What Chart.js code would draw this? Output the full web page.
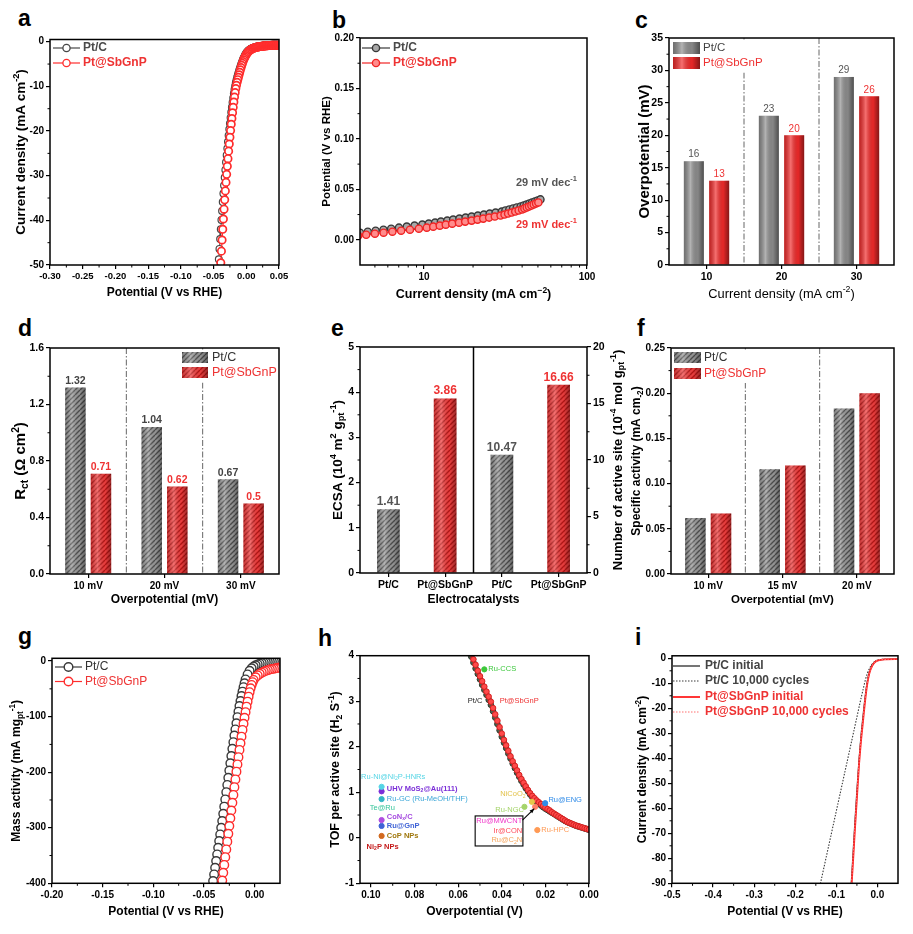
<!DOCTYPE html>
<html><head><meta charset="utf-8">
<script src="https://cdn.jsdelivr.net/npm/chart.js@4.4.1/dist/chart.umd.min.js"></script>
<style>
html,body{margin:0;padding:0;background:#fff;}
#wrap{position:relative;width:913px;height:934px;overflow:hidden;background:#fff;}
#wrap canvas{position:absolute;}
.lbl{position:absolute;font:bold 23px "Liberation Sans",Arial,sans-serif;color:#000;line-height:24px;height:24px;}
</style></head><body>
<div id="wrap">
<div class="lbl" style="left:18px;top:6px">a</div>
<div class="lbl" style="left:332px;top:8px">b</div>
<div class="lbl" style="left:635px;top:8px">c</div>
<div class="lbl" style="left:18px;top:316px">d</div>
<div class="lbl" style="left:331px;top:316px">e</div>
<div class="lbl" style="left:637px;top:316px">f</div>
<div class="lbl" style="left:18px;top:624px">g</div>
<div class="lbl" style="left:318px;top:626px">h</div>
<div class="lbl" style="left:635px;top:625px">i</div>
</div>
<script>
// ================= DATA =================
// (a) polarization curves
const aPotential = [0.050,0.049,0.048,0.047,0.046,0.045,0.044,0.043,0.042,0.041,
0.040,0.039,0.038,0.037,0.036,0.035,0.034,0.033,0.032,0.031,
0.030,0.029,0.028,0.027,0.026,0.025,0.024,0.023,0.022,0.021,
0.020,0.019,0.018,0.017,0.016,0.015,0.014,0.013,0.012,0.011,
0.010,0.009,0.008,0.007,0.006,0.005,0.004,0.003,0.002,0.001,
0.000,-0.001,-0.002,-0.003,-0.004,-0.005,-0.006,-0.007,-0.008,-0.009,
-0.010,-0.011,-0.012,-0.013,-0.014,-0.015,-0.016,-0.017,-0.018,-0.019,
-0.020,-0.021,-0.022,-0.023,-0.024,-0.025,-0.026,-0.027,-0.028,-0.029,
-0.030,-0.031,-0.032,-0.033,-0.034,-0.035,-0.036,-0.037,-0.038,-0.039,
-0.040,-0.041,-0.042,-0.043];
const aPtC = [-0.7,-0.7,-0.7,-0.7,-0.7,-0.7,-0.7,-0.7,-0.7,-0.7,
-0.7,-0.71,-0.72,-0.73,-0.74,-0.75,-0.76,-0.77,-0.78,-0.79,
-0.8,-0.82,-0.84,-0.86,-0.88,-0.9,-0.92,-0.94,-0.96,-0.98,
-1.0,-1.03,-1.06,-1.09,-1.12,-1.15,-1.19,-1.23,-1.28,-1.33,
-1.39,-1.45,-1.52,-1.6,-1.69,-1.79,-1.9,-2.03,-2.18,-2.35,
-2.55,-2.8,-3.05,-3.35,-3.65,-4.0,-4.35,-4.75,-5.15,-5.6,
-6.05,-6.5,-7.0,-7.5,-8.0,-8.6,-9.2,-9.9,-10.7,-11.6,
-12.6,-13.6,-14.7,-15.8,-17.0,-18.3,-19.6,-21.0,-22.4,-23.9,
-25.4,-27.0,-28.7,-30.4,-32.2,-34.0,-35.9,-37.9,-39.9,-42.0,
-44.2,-46.4,-48.7,-51.0];
const aPtSbGnP = [-0.8,-0.8,-0.8,-0.8,-0.8,-0.8,-0.8,-0.8,-0.8,-0.8,
-0.8,-0.81,-0.82,-0.83,-0.84,-0.85,-0.86,-0.87,-0.88,-0.89,
-0.9,-0.92,-0.94,-0.96,-0.98,-1.0,-1.02,-1.04,-1.06,-1.08,
-1.1,-1.13,-1.16,-1.19,-1.22,-1.26,-1.3,-1.35,-1.4,-1.46,
-1.52,-1.6,-1.68,-1.77,-1.87,-1.98,-2.1,-2.25,-2.42,-2.62,
-2.85,-3.1,-3.4,-3.7,-4.05,-4.45,-4.85,-5.3,-5.8,-6.3,
-6.85,-7.4,-7.95,-8.5,-9.1,-9.75,-10.5,-11.4,-12.4,-13.5,
-14.7,-15.9,-17.2,-18.5,-19.9,-21.4,-22.9,-24.5,-26.2,-27.9,
-29.7,-31.5,-33.4,-35.4,-37.5,-39.7,-42.0,-44.4,-46.9,-49.5,
-52.2,-55.0,-57.9,-60.9];
const aXTicks = [-0.30,-0.25,-0.20,-0.15,-0.10,-0.05,0.00,0.05];
const aYTicks = [-50,-40,-30,-20,-10,0];

// (b) Tafel plots
const bPtCCurrent = [4.05,4.52,5.05,5.64,6.29,7.02,7.84,8.75,9.77,10.7,11.7,12.7,13.9,15.1,16.5,18.0,19.6,21.4,23.3,25.3,27.5,30.0,31.6,33.4,35.2,37.1,39.2,40.9,42.6,44.3,46.0,47.9,49.8,51.8];
const bPtCPotential = [0.007,0.008,0.009,0.010,0.011,0.012,0.013,0.014,0.015,0.016,0.017,0.018,0.019,0.020,0.021,0.022,0.023,0.024,0.025,0.026,0.027,0.028,0.029,0.030,0.031,0.032,0.033,0.034,0.035,0.036,0.037,0.038,0.039,0.040];
const bSbCurrent = [3.95,4.42,5.0,5.65,6.4,7.24,8.2,9.3,10.4,11.4,12.5,13.6,14.9,16.4,17.9,19.6,21.3,23.1,25.1,27.2,29.5,31.2,32.8,34.5,36.3,38.1,40.0,41.3,42.7,44.1,45.6,47.1,48.7,50.3];
const bSbPotential = [0.004,0.005,0.006,0.007,0.008,0.009,0.010,0.011,0.012,0.013,0.014,0.015,0.016,0.017,0.018,0.019,0.020,0.021,0.022,0.023,0.024,0.025,0.026,0.027,0.028,0.029,0.030,0.031,0.032,0.033,0.034,0.035,0.036,0.037];
const bXTicks = [10,100];
const bXMinor = [5,6,7,8,9,20,30,40,50,60,70,80,90];
const bYTicks = [0,0.05,0.10,0.15,0.20];

// (c) overpotential
const cCats = ['10','20','30'];
const cPtC = [16,23,29];
const cPtSb = [13,20,26];
const cYTicks = [0,5,10,15,20,25,30,35];

// (d) Rct
const dCats = ['10 mV','20 mV','30 mV'];
const dPtC = [1.32,1.04,0.67];
const dPtSb = [0.71,0.62,0.5];
const dYTicks = [0,0.4,0.8,1.2,1.6];

// (e) ECSA / active sites
const eCats = ['Pt/C','Pt@SbGnP','Pt/C','Pt@SbGnP'];
const eECSA = [1.41,3.86];
const eSites = [10.47,16.66];
const eYTicks = [0,1,2,3,4,5];
const eY2Ticks = [0,5,10,15,20];

// (f) specific activity
const fCats = ['10 mV','15 mV','20 mV'];
const fPtC = [0.062,0.116,0.183];
const fPtSb = [0.067,0.120,0.200];
const fYTicks = [0,0.05,0.10,0.15,0.20,0.25];

// (g) mass activity
const gPtCPotential = [0.025,0.023,0.021,0.019,0.017,0.015,0.013,0.011,0.009,0.007,0.005,0.003,0.001,
-0.001,-0.003,-0.005,-0.007,-0.009,
-0.010,-0.011,-0.012,-0.013,-0.014,-0.015,-0.016,-0.017,-0.018,-0.019,-0.020,-0.021,-0.022,-0.023,-0.024,-0.025,-0.026,-0.027,-0.028,-0.029,-0.030,-0.031,-0.032,-0.033,-0.034,-0.035,-0.036,-0.037,-0.038,-0.039,-0.040,-0.041,-0.042];
const gPtC = [-0.4,-0.55,-0.7,-0.9,-1.1,-1.4,-1.8,-2.3,-2.9,-3.7,-4.7,-6.0,-7.6,
-9.8,-13,-17.5,-24,-33,
-40,-47,-55,-63,-72,-81,-91,-101,-112,-123,-134,-146,-158,-171,-184,-197,-210,-223,-236,-249,-262,-275,-288,-300,-312,-324,-336,-348,-360,-372,-384,-396,-408];
const gSbPotential = [0.025,0.023,0.021,0.019,0.017,0.015,0.013,0.011,0.009,0.007,0.005,0.003,0.001,
-0.001,-0.002,-0.003,-0.004,-0.005,-0.006,-0.007,-0.008,-0.009,-0.010,-0.011,-0.012,-0.013,-0.014,-0.015,-0.016,-0.017,-0.018,-0.019,-0.020,-0.021,-0.022,-0.023,-0.024,-0.025,-0.026,-0.027,-0.028,-0.029,-0.030,-0.031,-0.032,-0.033];
const gSb = [-11.5,-12.2,-12.9,-13.6,-14.4,-15.3,-16.3,-17.5,-19.0,-20.8,-23.0,-25.8,-29.2,
-34,-38,-43,-49,-56,-64,-73,-82,-92,-102,-113,-124,-136,-148,-160,-173,-186,-199,-213,-227,-241,-255,-269,-283,-297,-311,-325,-339,-353,-367,-381,-395,-409];
const gXTicks = [-0.20,-0.15,-0.10,-0.05,0.00];
const gYTicks = [-400,-300,-200,-100,0];

// (h) TOF
const hEta = [0.054,0.053,0.052,0.051,0.050,0.049,0.048,0.047,0.046,0.045,0.044,0.043,0.042,0.041,0.040,0.039,0.038,0.037,0.036,0.035,0.034,0.033,0.032,0.031,0.030,0.029,0.028,0.027,0.026,0.025,0.024,0.023,0.022,0.021,0.020,0.019,0.018,0.017,0.016,0.015,0.014,0.013,0.012,0.011,0.010,0.009,0.008,0.007,0.006,0.005,0.004,0.003,0.002,0.001,0.000];
const hPtC = [3.98,3.85,3.72,3.60,3.48,3.36,3.25,3.14,3.03,2.92,2.78,2.64,2.50,2.36,2.22,2.09,1.97,1.85,1.74,1.63,1.53,1.43,1.34,1.25,1.17,1.09,1.02,0.95,0.89,0.84,0.79,0.75,0.71,0.67,0.64,0.61,0.58,0.55,0.52,0.49,0.46,0.43,0.40,0.37,0.345,0.325,0.305,0.285,0.265,0.25,0.235,0.22,0.205,0.19,0.175];
const hPtSb = [4.05,3.92,3.80,3.67,3.55,3.44,3.32,3.21,3.10,2.99,2.85,2.71,2.57,2.43,2.29,2.15,2.03,1.91,1.79,1.68,1.58,1.48,1.38,1.29,1.21,1.13,1.05,0.98,0.92,0.87,0.82,0.78,0.74,0.70,0.66,0.63,0.60,0.56,0.53,0.50,0.47,0.44,0.41,0.38,0.35,0.33,0.31,0.29,0.27,0.255,0.24,0.225,0.21,0.195,0.18];
const hLitNames = ['Ru-CCS','Ru-Ni@Ni2P-HNRs','UHV MoS2@Au(111)','Ru-GC','CoNx/C','Ru@GnP','CoP NPs','NiCoO2','Ru-NGC','Ru@ENG','Ru@MWCNT/Ir@CON/Ru@C2N','Ru-HPC'];
const hLitEta = [0.048,0.0951,0.0951,0.0951,0.0951,0.0951,0.0951,0.0262,0.0296,0.0201,0.0247,0.0237];
const hLitTOF = [3.70,1.12,1.02,0.85,0.39,0.26,0.04,0.79,0.68,0.76,0.68,0.17];
const hXTicks = [0.10,0.08,0.06,0.04,0.02,0.00];
const hYTicks = [-1,0,1,2,3,4];

// (i) stability
const iPotential = [0.05,0.02,0.0,-0.005,-0.01,-0.015,-0.02,-0.025,-0.03,-0.035,-0.04,-0.045,-0.05,-0.055,-0.06,-0.064];
const iPtCInitial = [-0.3,-0.4,-0.8,-1.2,-2.0,-3.2,-5.5,-9.5,-15.5,-23,-31,-41,-53,-66,-80,-91];
const iSbInitial = [-0.3,-0.4,-0.9,-1.4,-2.3,-3.8,-6.2,-10.5,-17,-25,-33,-43,-56,-69,-83,-93];
const iSbCycled = [-0.3,-0.4,-0.8,-1.3,-2.1,-3.5,-5.8,-9.8,-16,-24,-32,-42,-54,-67,-81,-92];
const iPtCCycledPotential = [0.05,0.02,0.0,-0.005,-0.01,-0.015,-0.02,-0.025,-0.03,-0.035,-0.04,-0.05,-0.06,-0.07,-0.08,-0.09,-0.10,-0.11,-0.12,-0.13,-0.14];
const iPtCCycled = [-0.3,-0.4,-0.7,-1.1,-1.8,-2.8,-4.2,-6.2,-9,-12.5,-16,-23.5,-31,-38.5,-46,-53.5,-61,-68.5,-76,-83.5,-91];
const iXTicks = [-0.5,-0.4,-0.3,-0.2,-0.1,0.0];
const iYTicks = [-90,-80,-70,-60,-50,-40,-30,-20,-10,0];

// ================= HELPERS =================
const FAM = '"Liberation Sans", Arial, Helvetica, sans-serif';
Chart.defaults.font.family = FAM;
Chart.defaults.color = '#000';
const wrap = document.getElementById('wrap');
const GRAY = '#474747', RED = '#ff2d2d', GRAYTXT = '#4a4a4a', REDTXT = '#ee3333';

function pts(xs, ys) { return xs.map((x, i) => ({x: x, y: ys[i]})); }
function fontStr(w, s) { return w + ' ' + s + 'px ' + FAM; }

function drawRich(ctx, parts, x, y, o) {
  o = o || {};
  const size = o.size || 12, weight = o.weight || 'bold';
  const segs = parts.map(p => typeof p === 'string' ? {t: p, m: ''} : {t: p[0], m: p[1]});
  let w = 0;
  segs.forEach(s => { s.fs = s.m ? size * 0.68 : size; ctx.font = fontStr(weight, s.fs); s.w = ctx.measureText(s.t).width; w += s.w; });
  ctx.save();
  ctx.translate(x, y);
  if (o.rot) ctx.rotate(o.rot);
  let cx = o.align === 'left' ? 0 : (o.align === 'right' ? -w : -w / 2);
  ctx.fillStyle = o.color || '#000';
  ctx.textAlign = 'left'; ctx.textBaseline = 'middle';
  segs.forEach(s => {
    ctx.font = fontStr(weight, s.fs);
    const dy = s.m === 'sup' ? -size * 0.34 : (s.m === 'sub' ? size * 0.28 : 0);
    ctx.fillText(s.t, cx, dy);
    cx += s.w;
  });
  ctx.restore();
}

function legLM(ctx, x0, x1, y, color, r, lw, fill) {
  ctx.strokeStyle = color; ctx.lineWidth = 1.2;
  ctx.beginPath(); ctx.moveTo(x0, y); ctx.lineTo(x1, y); ctx.stroke();
  ctx.beginPath(); ctx.arc((x0 + x1) / 2, y, r, 0, Math.PI * 2);
  ctx.fillStyle = fill; ctx.fill(); ctx.lineWidth = lw; ctx.stroke();
}
function legLine(ctx, x0, x1, y, color, lw, dash) {
  ctx.save(); ctx.strokeStyle = color; ctx.lineWidth = lw; ctx.setLineDash(dash || []);
  ctx.beginPath(); ctx.moveTo(x0, y); ctx.lineTo(x1, y); ctx.stroke(); ctx.restore();
}
function legText(ctx, t, x, y, font, color) {
  ctx.font = font; ctx.fillStyle = color; ctx.textAlign = 'left'; ctx.textBaseline = 'middle'; ctx.fillText(t, x, y);
}
function shadeRect(ctx, x, y, w, h, k) {
  const g = ctx.createLinearGradient(x, 0, x + w, 0);
  g.addColorStop(0, 'rgba(0,0,0,' + (0.22 * k) + ')');
  g.addColorStop(0.33, 'rgba(255,255,255,' + (0.33 * k) + ')');
  g.addColorStop(0.7, 'rgba(0,0,0,' + (0.05 * k) + ')');
  g.addColorStop(1, 'rgba(0,0,0,' + (0.45 * k) + ')');
  ctx.fillStyle = g; ctx.fillRect(x, y, w, h);
}
function shadeBars(chart, ctx, k) {
  chart.data.datasets.forEach((ds, di) => {
    chart.getDatasetMeta(di).data.forEach((el, j) => {
      if (ds.data[j] == null) return;
      const p = el.getProps(['x', 'y', 'base', 'width'], true);
      shadeRect(ctx, p.x - p.width / 2, Math.min(p.y, p.base), p.width, Math.abs(p.base - p.y), k);
    });
  });
}
function barLabels(chart, ctx, font, colorFn, fmt) {
  ctx.font = font; ctx.textAlign = 'center'; ctx.textBaseline = 'bottom';
  chart.data.datasets.forEach((ds, di) => {
    chart.getDatasetMeta(di).data.forEach((el, j) => {
      const v = ds.data[j]; if (v == null) return;
      ctx.fillStyle = colorFn(di, j);
      ctx.fillText(fmt ? fmt(v) : String(v), el.x, el.y - 1.5);
    });
  });
}
function dividers(chart, ctx, color, lw, dash, between) {
  const xs = chart.scales.x, a = chart.chartArea;
  ctx.save(); ctx.strokeStyle = color; ctx.lineWidth = lw; ctx.setLineDash(dash);
  between.forEach(k => {
    const px = (xs.getPixelForValue(k - 1) + xs.getPixelForValue(k)) / 2;
    ctx.beginPath(); ctx.moveTo(px, a.top); ctx.lineTo(px, a.bottom); ctx.stroke();
  });
  ctx.restore();
}
function hatch(base, stripe) {
  const s = 5, c = document.createElement('canvas'); c.width = s; c.height = s;
  const g = c.getContext('2d'); g.fillStyle = base; g.fillRect(0, 0, s, s);
  g.strokeStyle = stripe; g.lineWidth = 1.4; g.beginPath();
  for (let k = -1; k <= 1; k++) { g.moveTo(k * s, s); g.lineTo(k * s + s, 0); }
  g.stroke();
  return g.createPattern(c, 'repeat');
}
const HG = hatch('#9a9a9a', '#4e4e4e');
const HR = hatch('#f24040', '#b81616');

function decoFor(d) {
  const X = px => px - d.box.x, Y = py => py - d.box.y;
  return {
    id: 'deco',
    beforeDatasetsDraw(chart) { if (d.under) { chart.ctx.save(); d.under(chart, chart.ctx, X, Y); chart.ctx.restore(); } },
    afterDatasetsDraw(chart) { if (d.over) { chart.ctx.save(); d.over(chart, chart.ctx, X, Y); chart.ctx.restore(); } },
    afterDraw(chart) {
      const ctx = chart.ctx, a = chart.chartArea;
      ctx.save(); ctx.strokeStyle = '#000'; ctx.lineWidth = 1;
      const mt = d.minor || {};
      Object.keys(mt).forEach(id => {
        const s = chart.scales[id]; if (!s) return;
        let vals = mt[id];
        if (vals === 'auto') { const tv = s.ticks.map(t => t.value); vals = []; for (let i = 0; i < tv.length - 1; i++) vals.push((tv[i] + tv[i + 1]) / 2); }
        vals.forEach(v => {
          const p = s.getPixelForValue(v);
          ctx.beginPath();
          if (id === 'x') { if (p < a.left - 0.5 || p > a.right + 0.5) return; ctx.moveTo(p, a.bottom); ctx.lineTo(p, a.bottom + 2.5); }
          else if (id === 'y') { if (p < a.top - 0.5 || p > a.bottom + 0.5) return; ctx.moveTo(a.left, p); ctx.lineTo(a.left - 2.5, p); }
          else { ctx.moveTo(a.right, p); ctx.lineTo(a.right + 2.5, p); }
          ctx.stroke();
        });
      });
      ctx.restore();
      if (d.legend) { ctx.save(); d.legend(chart, ctx, X, Y); ctx.restore(); }
      ctx.save(); ctx.strokeStyle = '#000'; ctx.lineWidth = 1.5;
      ctx.strokeRect(a.left, a.top, a.right - a.left, a.bottom - a.top); ctx.restore();
      (d.titles || []).forEach(t => drawRich(ctx, t.parts, X(t.x), Y(t.y), t));
    }
  };
}

function linAxis(min, max, ticks, fmt, fs, more) {
  return Object.assign({
    type: 'linear', min: min, max: max,
    afterBuildTicks: s => { s.ticks = ticks.map(v => ({value: v})); },
    ticks: {callback: fmt, font: {size: fs || 10, weight: 'bold'}, color: '#000', padding: 2, maxRotation: 0, autoSkip: false},
    grid: {drawOnChartArea: false, drawTicks: true, tickLength: 4, color: '#000', lineWidth: 1.2},
    border: {display: false}
  }, more || {});
}
function catAxis(fs) {
  return {type: 'category', offset: true,
    ticks: {font: {size: fs || 10, weight: 'bold'}, color: '#000', padding: 2, maxRotation: 0, autoSkip: false},
    grid: {drawOnChartArea: false, drawTicks: true, tickLength: 4, color: '#000', lineWidth: 1.2, offset: false},
    border: {display: false}};
}

function makeChart(box, area, config, deco) {
  const cv = document.createElement('canvas');
  cv.width = box.w; cv.height = box.h;
  cv.style.left = box.x + 'px'; cv.style.top = box.y + 'px';
  cv.style.width = box.w + 'px'; cv.style.height = box.h + 'px';
  wrap.appendChild(cv);
  const L = area.l - box.x, T = area.t - box.y, R = box.x + box.w - area.r, B = box.y + box.h - area.b;
  const o = config.options;
  Object.assign(o, {responsive: false, maintainAspectRatio: false, animation: false, devicePixelRatio: 1, events: []});
  o.layout = {padding: {left: 0, top: T, right: o.scales.y2 ? 0 : R, bottom: 0}};
  o.scales.x.afterFit = s => { s.height = B; };
  o.scales.y.afterFit = s => { s.width = L; };
  if (o.scales.y2) o.scales.y2.afterFit = s => { s.width = R; };
  o.plugins = {legend: {display: false}, tooltip: {enabled: false}};
  deco.box = box;
  config.plugins = [decoFor(deco)];
  return new Chart(cv, config);
}
const ROT = -Math.PI / 2;
const f2 = v => v.toFixed(2), f1 = v => v.toFixed(1), f0 = v => String(v);

// ================= (a) =================
makeChart({x: 0, y: 0, w: 300, h: 305}, {l: 50, t: 39.5, r: 279, b: 265}, {
  type: 'scatter',
  data: {datasets: [
    {data: pts(aPotential, aPtC), order: 2, showLine: true, borderColor: GRAY, borderWidth: 1, pointRadius: 3.4, pointBorderWidth: 1.2, pointBorderColor: GRAY, pointBackgroundColor: '#fff', clip: 0},
    {data: pts(aPotential, aPtSbGnP), order: 1, showLine: true, borderColor: RED, borderWidth: 1.2, pointRadius: 3.7, pointBorderWidth: 1.7, pointBorderColor: RED, pointBackgroundColor: '#fff', clip: 0}
  ]},
  options: {scales: {x: linAxis(-0.30, 0.05, aXTicks, f2, 9.5), y: linAxis(-50, 0.5, aYTicks, f0)}}
}, {
  minor: {x: 'auto', y: 'auto'},
  titles: [
    {parts: ['Current density (mA cm', ['-2', 'sup'], ')'], x: 21, y: 152, size: 13.5, rot: ROT},
    {parts: ['Potential (V vs RHE)'], x: 164.5, y: 293, size: 12}
  ],
  legend: (ch, ctx, X, Y) => {
    legLM(ctx, X(53), X(80), Y(48), GRAY, 3.6, 1.3, '#fff');
    legText(ctx, 'Pt/C', X(83), Y(48), fontStr('bold', 12), GRAYTXT);
    legLM(ctx, X(53), X(80), Y(63), RED, 3.6, 1.3, '#fff');
    legText(ctx, 'Pt@SbGnP', X(83), Y(63), fontStr('bold', 12), REDTXT);
  }
});

// ================= (b) =================
makeChart({x: 300, y: 0, w: 305, h: 305}, {l: 360, t: 38, r: 587, b: 265}, {
  type: 'scatter',
  data: {datasets: [
    {data: pts(bPtCCurrent, bPtCPotential), order: 2, showLine: true, borderColor: '#383838', borderWidth: 1, pointRadius: 3.6, pointBorderWidth: 1.4, pointBorderColor: '#383838', pointBackgroundColor: '#a8a8a8', clip: 0},
    {data: pts(bSbCurrent, bSbPotential), order: 1, showLine: true, borderColor: '#f02424', borderWidth: 1, pointRadius: 3.6, pointBorderWidth: 1.4, pointBorderColor: '#f02424', pointBackgroundColor: '#ff8c8c', clip: 0}
  ]},
  options: {scales: {
    x: {type: 'logarithmic', min: 4.05, max: 100,
      afterBuildTicks: s => { s.ticks = bXTicks.map(v => ({value: v})); },
      ticks: {callback: v => String(v), font: {size: 10, weight: 'bold'}, color: '#000', padding: 2, maxRotation: 0, autoSkip: false},
      grid: {drawOnChartArea: false, drawTicks: true, tickLength: 4, color: '#000', lineWidth: 1.2}, border: {display: false}},
    y: linAxis(-0.025, 0.20, bYTicks, f2)
  }}
}, {
  minor: {x: bXMinor, y: 'auto'},
  titles: [
    {parts: ['Potential (V vs RHE)'], x: 327, y: 151.5, size: 11.5, rot: ROT},
    {parts: ['Current density (mA cm', ['\u22122', 'sup'], ')'], x: 473.5, y: 295, size: 12.5}
  ],
  over: (ch, ctx, X, Y) => {
    drawRich(ctx, ['29 mV dec', ['-1', 'sup']], X(577), Y(183), {size: 11, color: '#555', align: 'right'});
    drawRich(ctx, ['29 mV dec', ['-1', 'sup']], X(577), Y(225), {size: 11, color: REDTXT, align: 'right'});
  },
  legend: (ch, ctx, X, Y) => {
    legLM(ctx, X(362), X(390), Y(48), '#383838', 3.6, 1.4, '#a8a8a8');
    legText(ctx, 'Pt/C', X(393), Y(48), fontStr('bold', 12), GRAYTXT);
    legLM(ctx, X(362), X(390), Y(63), '#f02424', 3.6, 1.4, '#ff8c8c');
    legText(ctx, 'Pt@SbGnP', X(393), Y(63), fontStr('bold', 12), REDTXT);
  }
});

// ================= (c) =================
makeChart({x: 605, y: 0, w: 308, h: 305}, {l: 669, t: 38, r: 894, b: 265}, {
  type: 'bar',
  data: {labels: cCats, datasets: [
    {data: cPtC, backgroundColor: '#8e8e8e', categoryPercentage: 0.675, barPercentage: 0.79},
    {data: cPtSb, backgroundColor: '#f22a2a', categoryPercentage: 0.675, barPercentage: 0.79}
  ]},
  options: {scales: {x: catAxis(10.5), y: linAxis(0, 35, cYTicks, f0, 10.5)}}
}, {
  minor: {y: 'auto'},
  titles: [
    {parts: ['Overpotential (mV)'], x: 645, y: 151.5, size: 15, rot: ROT},
    {parts: ['Current density (mA cm', ['-2', 'sup'], ')'], x: 781.5, y: 294, size: 12.8, weight: 'normal'}
  ],
  under: (ch, ctx) => dividers(ch, ctx, '#666', 1, [6, 2, 1.5, 2], [1, 2]),
  over: (ch, ctx) => {
    shadeBars(ch, ctx, 1);
    barLabels(ch, ctx, fontStr('normal', 10), di => di === 0 ? '#555' : REDTXT);
  },
  legend: (ch, ctx, X, Y) => {
    ctx.fillStyle = '#fff'; ctx.fillRect(X(670.5), Y(39.5), 98, 33);
    ctx.fillStyle = '#8e8e8e'; ctx.fillRect(X(673), Y(42), 27, 12); shadeRect(ctx, X(673), Y(42), 27, 12, 1);
    ctx.fillStyle = '#f22a2a'; ctx.fillRect(X(673), Y(57), 27, 12); shadeRect(ctx, X(673), Y(57), 27, 12, 1);
    legText(ctx, 'Pt/C', X(703), Y(48), fontStr('normal', 11.5), '#444');
    legText(ctx, 'Pt@SbGnP', X(703), Y(63), fontStr('normal', 11.5), REDTXT);
  }
});

// ================= (d) =================
makeChart({x: 0, y: 305, w: 300, h: 305}, {l: 50, t: 348, r: 279, b: 574}, {
  type: 'bar',
  data: {labels: dCats, datasets: [
    {data: dPtC, backgroundColor: HG, categoryPercentage: 0.67, barPercentage: 0.8},
    {data: dPtSb, backgroundColor: HR, categoryPercentage: 0.67, barPercentage: 0.8}
  ]},
  options: {scales: {x: catAxis(10), y: linAxis(0, 1.6, dYTicks, f1, 10.5)}}
}, {
  minor: {y: 'auto'},
  titles: [
    {parts: ['R', ['ct', 'sub'], ' (\u03a9 cm', ['2', 'sup'], ')'], x: 21, y: 461, size: 15, rot: ROT},
    {parts: ['Overpotential (mV)'], x: 164.5, y: 600, size: 12}
  ],
  under: (ch, ctx) => dividers(ch, ctx, '#666', 1, [6, 2, 1.5, 2], [1, 2]),
  over: (ch, ctx) => {
    shadeBars(ch, ctx, 0.8);
    barLabels(ch, ctx, fontStr('bold', 10.5), di => di === 0 ? '#444' : REDTXT);
  },
  legend: (ch, ctx, X, Y) => {
    ctx.fillStyle = '#fff'; ctx.fillRect(X(178), Y(349.5), 99.5, 33);
    ctx.fillStyle = HG; ctx.fillRect(X(182), Y(352), 26, 11); shadeRect(ctx, X(182), Y(352), 26, 11, 0.8);
    ctx.fillStyle = HR; ctx.fillRect(X(182), Y(367), 26, 11); shadeRect(ctx, X(182), Y(367), 26, 11, 0.8);
    legText(ctx, 'Pt/C', X(212), Y(357.5), fontStr('normal', 12.5), '#333');
    legText(ctx, 'Pt@SbGnP', X(212), Y(372.5), fontStr('normal', 12.5), REDTXT);
  }
});

// ================= (e) =================
makeChart({x: 300, y: 305, w: 330, h: 305}, {l: 360, t: 347, r: 587, b: 573}, {
  type: 'bar',
  data: {labels: eCats, datasets: [
    {data: eECSA.concat([null, null]), yAxisID: 'y', backgroundColor: [HG, HR, HG, HR], grouped: false, categoryPercentage: 0.8, barPercentage: 0.5},
    {data: [null, null].concat(eSites), yAxisID: 'y2', backgroundColor: [HG, HR, HG, HR], grouped: false, categoryPercentage: 0.8, barPercentage: 0.5}
  ]},
  options: {scales: {
    x: catAxis(10.5),
    y: linAxis(0, 5, eYTicks, f0, 10.5),
    y2: linAxis(0, 20, eY2Ticks, f0, 10.5, {position: 'right'})
  }}
}, {
  minor: {y: 'auto', y2: 'auto'},
  titles: [
    {parts: ['ECSA (10', ['4', 'sup'], ' m', ['2', 'sup'], ' g', ['pt', 'sub'], ['-1', 'sup'], ')'], x: 338, y: 460, size: 13.5, rot: ROT},
    {parts: ['Number of active site (10', ['-4', 'sup'], ' mol g', ['pt', 'sub'], ['-1', 'sup'], ')'], x: 618, y: 460, size: 13, rot: ROT},
    {parts: ['Electrocatalysts'], x: 473.5, y: 600, size: 12}
  ],
  under: (ch, ctx) => dividers(ch, ctx, '#000', 1.5, [], [2]),
  over: (ch, ctx) => {
    shadeBars(ch, ctx, 0.8);
    barLabels(ch, ctx, fontStr('bold', 12), (di, j) => j % 2 === 0 ? '#555' : REDTXT);
  }
});

// ================= (f) =================
makeChart({x: 625, y: 305, w: 288, h: 305}, {l: 671, t: 348, r: 894, b: 574}, {
  type: 'bar',
  data: {labels: fCats, datasets: [
    {data: fPtC, backgroundColor: HG, categoryPercentage: 0.69, barPercentage: 0.8},
    {data: fPtSb, backgroundColor: HR, categoryPercentage: 0.69, barPercentage: 0.8}
  ]},
  options: {scales: {x: catAxis(10), y: linAxis(0, 0.25, fYTicks, f2, 10)}}
}, {
  minor: {y: 'auto'},
  titles: [
    {parts: ['Specific activity (mA cm', ['-2', 'sub'], ')'], x: 637, y: 461, size: 12, rot: ROT},
    {parts: ['Overpotential (mV)'], x: 782.5, y: 600, size: 11.5}
  ],
  under: (ch, ctx) => dividers(ch, ctx, '#666', 1, [6, 2, 1.5, 2], [1, 2]),
  over: (ch, ctx) => shadeBars(ch, ctx, 0.8),
  legend: (ch, ctx, X, Y) => {
    ctx.fillStyle = '#fff'; ctx.fillRect(X(672.5), Y(349.5), 99.5, 33.5);
    ctx.fillStyle = HG; ctx.fillRect(X(674), Y(352), 27, 11); shadeRect(ctx, X(674), Y(352), 27, 11, 0.8);
    ctx.fillStyle = HR; ctx.fillRect(X(674), Y(368), 27, 11); shadeRect(ctx, X(674), Y(368), 27, 11, 0.8);
    legText(ctx, 'Pt/C', X(704), Y(357.5), fontStr('normal', 12), '#333');
    legText(ctx, 'Pt@SbGnP', X(704), Y(373.5), fontStr('normal', 12), REDTXT);
  }
});

// ================= (g) =================
makeChart({x: 0, y: 610, w: 300, h: 324}, {l: 52, t: 658.3, r: 280, b: 883.3}, {
  type: 'scatter',
  data: {datasets: [
    {data: pts(gPtCPotential, gPtC), order: 2, showLine: true, borderColor: '#3a3a3a', borderWidth: 1, pointRadius: 4.3, pointBorderWidth: 1.4, pointBorderColor: '#3a3a3a', pointBackgroundColor: '#fff', clip: 0},
    {data: pts(gSbPotential, gSb), order: 1, showLine: true, borderColor: RED, borderWidth: 1, pointRadius: 4.3, pointBorderWidth: 1.4, pointBorderColor: RED, pointBackgroundColor: '#fff', clip: 0}
  ]},
  options: {scales: {x: linAxis(-0.20, 0.025, gXTicks, f2), y: linAxis(-400, 5, gYTicks, f0)}}
}, {
  minor: {x: 'auto', y: 'auto'},
  titles: [
    {parts: ['Mass activity (mA mg', ['pt', 'sub'], ['-1', 'sup'], ')'], x: 17, y: 770.8, size: 12, rot: ROT},
    {parts: ['Potential (V vs RHE)'], x: 166, y: 912, size: 12}
  ],
  legend: (ch, ctx, X, Y) => {
    legLM(ctx, X(55), X(82), Y(667), '#3a3a3a', 4.3, 1.4, '#fff');
    legText(ctx, 'Pt/C', X(85), Y(667), fontStr('normal', 12), '#333');
    legLM(ctx, X(55), X(82), Y(681.5), RED, 4.3, 1.4, '#fff');
    legText(ctx, 'Pt@SbGnP', X(85), Y(681.5), fontStr('normal', 12), REDTXT);
  }
});

// ================= (h) =================
const hLitColors = ['#3cc83c', '#55d5e5', '#7b2fd8', '#33b5c5', '#b04de0', '#3f63d6', '#d2691e', '#e6c84a', '#a5d46a', '#2f8be8', '#ff7f66', '#ff9a55'];
const hNotes = [
  {parts: ['Ru-CCS'], x: 0.0462, y: 3.70, color: '#3cc83c'},
  {parts: ['Pt/C'], x: 0.0522, y: 3.01, color: '#222', align: 'center'},
  {parts: ['Pt@SbGnP'], x: 0.032, y: 3.01, color: REDTXT, align: 'center'},
  {parts: ['Ru-Ni@Ni', ['2', 'sub'], 'P-HNRs'], x: 0.1045, y: 1.34, color: '#55d5e5'},
  {parts: ['UHV MoS', ['2', 'sub'], '@Au(111)'], x: 0.0927, y: 1.08, color: '#7b2fd8', bold: true},
  {parts: ['Ru-GC (Ru-MeOH/THF)'], x: 0.0927, y: 0.85, color: '#3aa6d8'},
  {parts: ['Te@Ru'], x: 0.1005, y: 0.65, color: '#36c59a'},
  {parts: ['CoN', ['x', 'sub'], '/C'], x: 0.0927, y: 0.46, color: '#a64be0', bold: true},
  {parts: ['Ru@GnP'], x: 0.0927, y: 0.26, color: '#3f63d6', bold: true},
  {parts: ['CoP NPs'], x: 0.0927, y: 0.04, color: '#a0780e', bold: true},
  {parts: ['Ni', ['2', 'sub'], 'P NPs'], x: 0.102, y: -0.20, color: '#c41a1a', bold: true},
  {parts: ['NiCoO', ['2', 'sub']], x: 0.0407, y: 0.96, color: '#e3c24a'},
  {parts: ['Ru-NGC'], x: 0.043, y: 0.62, color: '#a5d46a'},
  {parts: ['Ru@ENG'], x: 0.0186, y: 0.84, color: '#2f8be8'},
  {parts: ['Ru@MWCNT'], x: 0.0306, y: 0.37, color: '#f035c8', align: 'right'},
  {parts: ['Ir@CON'], x: 0.0306, y: 0.15, color: '#ff4a5a', align: 'right'},
  {parts: ['Ru@C', ['2', 'sub'], 'N'], x: 0.0306, y: -0.05, color: '#f5a65e', align: 'right'},
  {parts: ['Ru-HPC'], x: 0.0219, y: 0.17, color: '#ff9a55'}
];
const hDatasets = [
  {data: pts(hEta, hPtC), order: 3, borderColor: '#2d3a2d', pointRadius: 2.8, pointBorderWidth: 1, pointBorderColor: '#2d3a2d', pointBackgroundColor: '#4f604f', clip: 0},
  {data: pts(hEta, hPtSb), order: 2, borderColor: '#d42020', pointRadius: 2.8, pointBorderWidth: 1, pointBorderColor: '#d42020', pointBackgroundColor: '#ff4a4a', clip: 0}
];
hLitNames.forEach((n, i) => hDatasets.push({label: n, order: 1, data: [{x: hLitEta[i], y: hLitTOF[i]}], pointRadius: 2.6, pointBorderWidth: 1, pointBorderColor: hLitColors[i], pointBackgroundColor: hLitColors[i]}));
makeChart({x: 300, y: 610, w: 305, h: 324}, {l: 360, t: 655.7, r: 589, b: 883.3}, {
  type: 'scatter',
  data: {datasets: hDatasets},
  options: {scales: {x: linAxis(0, 0.105, hXTicks, f2, 10, {reverse: true}), y: linAxis(-1, 4, hYTicks, f0)}}
}, {
  minor: {x: 'auto', y: 'auto'},
  titles: [
    {parts: ['TOF per active site (H', ['2', 'sub'], ' S', ['-1', 'sup'], ')'], x: 336, y: 769.5, size: 12.5, rot: ROT},
    {parts: ['Overpotential (V)'], x: 474.5, y: 912, size: 12}
  ],
  over: (ch, ctx) => {
    const xs = ch.scales.x, ys = ch.scales.y;
    hNotes.forEach(n => drawRich(ctx, n.parts, xs.getPixelForValue(n.x), ys.getPixelForValue(n.y),
      {size: 7.5, weight: n.bold ? 'bold' : 'normal', color: n.color, align: n.align || 'left'}));
    const bx0 = xs.getPixelForValue(0.0522), bx1 = xs.getPixelForValue(0.0303);
    const by0 = ys.getPixelForValue(0.48), by1 = ys.getPixelForValue(-0.18);
    ctx.strokeStyle = '#000'; ctx.lineWidth = 1.1; ctx.strokeRect(bx0, by0, bx1 - bx0, by1 - by0);
    const ax0 = xs.getPixelForValue(0.0305), ay0 = ys.getPixelForValue(0.39);
    const ax1 = xs.getPixelForValue(0.0251), ay1 = ys.getPixelForValue(0.64);
    ctx.beginPath(); ctx.moveTo(ax0, ay0); ctx.lineTo(ax1, ay1); ctx.stroke();
    const ang = Math.atan2(ay1 - ay0, ax1 - ax0);
    ctx.beginPath(); ctx.moveTo(ax1, ay1);
    ctx.lineTo(ax1 - 5 * Math.cos(ang - 0.4), ay1 - 5 * Math.sin(ang - 0.4));
    ctx.lineTo(ax1 - 5 * Math.cos(ang + 0.4), ay1 - 5 * Math.sin(ang + 0.4));
    ctx.closePath(); ctx.fillStyle = '#000'; ctx.fill();
  }
});

// ================= (i) =================
makeChart({x: 605, y: 610, w: 308, h: 324}, {l: 672, t: 655.8, r: 898, b: 883.3}, {
  type: 'scatter',
  data: {datasets: [
    {data: pts(iPotential, iPtCInitial), order: 4, showLine: true, borderColor: '#3a3a3a', borderWidth: 1.3, pointRadius: 0, cubicInterpolationMode: 'monotone', clip: 0},
    {data: pts(iPtCCycledPotential, iPtCCycled), order: 3, showLine: true, borderColor: '#3a3a3a', borderWidth: 1.1, borderDash: [1.5, 1.5], pointRadius: 0, cubicInterpolationMode: 'monotone', clip: 0},
    {data: pts(iPotential, iSbInitial), order: 2, showLine: true, borderColor: '#ff2020', borderWidth: 1.8, pointRadius: 0, cubicInterpolationMode: 'monotone', clip: 0},
    {data: pts(iPotential, iSbCycled), order: 1, showLine: true, borderColor: '#ff7070', borderWidth: 1.2, borderDash: [1.5, 1.5], pointRadius: 0, cubicInterpolationMode: 'monotone', clip: 0}
  ]},
  options: {scales: {x: linAxis(-0.5, 0.05, iXTicks, f1), y: linAxis(-90, 1, iYTicks, f0)}}
}, {
  minor: {x: 'auto', y: 'auto'},
  titles: [
    {parts: ['Current density (mA cm', ['-2', 'sup'], ')'], x: 643, y: 769.5, size: 12, rot: ROT},
    {parts: ['Potential (V vs RHE)'], x: 785, y: 912, size: 12}
  ],
  legend: (ch, ctx, X, Y) => {
    legLine(ctx, X(673), X(700), Y(666), '#3a3a3a', 1.4, []);
    legText(ctx, 'Pt/C initial', X(705), Y(666), fontStr('bold', 12), '#444');
    legLine(ctx, X(673), X(700), Y(681), '#3a3a3a', 1.1, [1.5, 1.5]);
    legText(ctx, 'Pt/C 10,000 cycles', X(705), Y(681), fontStr('bold', 12), '#444');
    legLine(ctx, X(673), X(700), Y(697), '#ff2020', 1.8, []);
    legText(ctx, 'Pt@SbGnP initial', X(705), Y(697), fontStr('bold', 12), REDTXT);
    legLine(ctx, X(673), X(700), Y(712), '#ff7070', 1.2, [1.5, 1.5]);
    legText(ctx, 'Pt@SbGnP 10,000 cycles', X(705), Y(712), fontStr('bold', 12), REDTXT);
  }
});
</script>
</body></html>
